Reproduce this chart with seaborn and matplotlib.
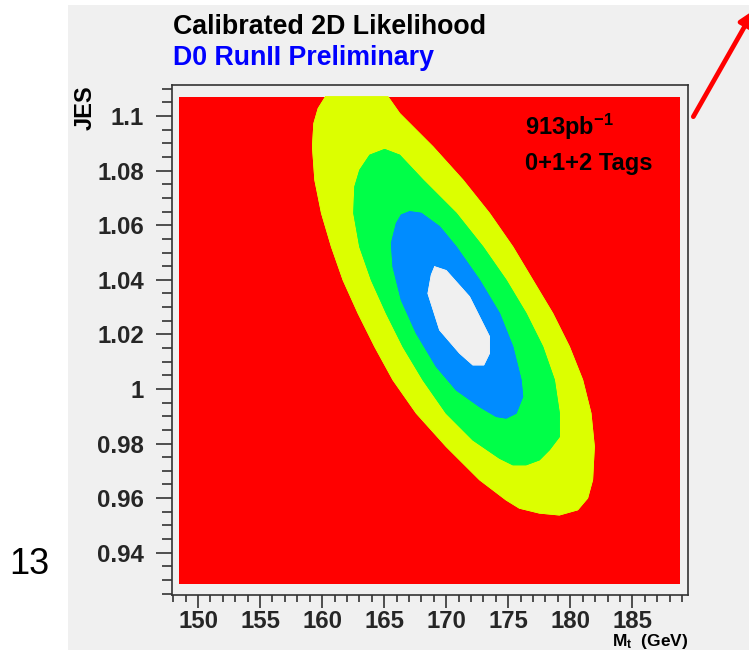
import numpy as np
import matplotlib
matplotlib.use("Agg")
import matplotlib.pyplot as plt
import seaborn as sns
from matplotlib.patches import Rectangle

# ---------------- data ----------------
mass_range = [148.5, 188.8]
jes_range = [0.9285, 1.107]

yellow_mass = [160.27, 165.31, 166.25, 168.93, 171.35, 173.49, 175.37, 176.98, 178.59,
               179.93, 181.00, 181.67, 181.94, 181.80, 181.40, 180.60, 179.12, 177.51,
               175.90, 174.83, 172.69, 170.00, 167.59, 165.71, 164.24, 162.90, 161.69,
               160.75, 159.95, 159.41, 159.22, 159.33, 159.68]
yellow_jes = [1.1071, 1.1071, 1.1010, 1.0888, 1.0766, 1.0644, 1.0521, 1.0399, 1.0277,
              1.0155, 1.0033, 0.9911, 0.9789, 0.9667, 0.9600, 0.9557, 0.9538, 0.9545,
              0.9563, 0.9593, 0.9667, 0.9789, 0.9911, 1.0033, 1.0155, 1.0277, 1.0399,
              1.0521, 1.0644, 1.0766, 1.0888, 1.0973, 1.1028]

green_mass = [165.04, 166.25, 168.13, 170.81, 172.96, 174.83, 176.44, 177.78, 178.72,
              179.12, 179.12, 178.32, 177.51, 176.44, 175.37, 174.30, 172.15, 170.00,
              168.13, 166.52, 165.18, 163.97, 163.03, 162.55, 162.63, 163.03, 163.84]
green_jes = [1.0878, 1.0857, 1.0766, 1.0644, 1.0521, 1.0399, 1.0277, 1.0155, 1.0033,
             0.9911, 0.9825, 0.9777, 0.9740, 0.9722, 0.9722, 0.9746, 0.9813, 0.9911,
             1.0033, 1.0155, 1.0277, 1.0399, 1.0521, 1.0644, 1.0741, 1.0802, 1.0857]

blue_mass = [167.06, 167.99, 169.47, 170.81, 172.69, 174.30, 175.37, 176.04, 176.17,
             175.64, 174.83, 174.03, 172.69, 170.81, 169.20, 167.59, 166.38, 165.71,
             165.58, 165.98, 166.38]
blue_jes = [1.0650, 1.0644, 1.0595, 1.0521, 1.0399, 1.0277, 1.0155, 1.0033, 0.9972,
            0.9911, 0.9893, 0.9899, 0.9935, 0.9996, 1.0082, 1.0204, 1.0326, 1.0448,
            1.0534, 1.0607, 1.0638]

white_mass = [169.07, 170.00, 171.88, 173.49, 173.49, 173.03, 172.15, 171.08, 169.47,
              168.53, 168.80]
white_jes = [1.0448, 1.0434, 1.0338, 1.0192, 1.0131, 1.0088, 1.0088, 1.0131, 1.0216,
             1.0350, 1.0418]

x_major_ticks = [150, 155, 160, 165, 170, 175, 180, 185]
y_major_ticks = [0.94, 0.96, 0.98, 1.00, 1.02, 1.04, 1.06, 1.08, 1.10]
y_tick_labels = ["0.94", "0.96", "0.98", "1", "1.02", "1.04", "1.06", "1.08", "1.1"]

# ---------------- style ----------------
sns.set_theme(style="ticks")
plt.rcParams['font.family'] = ['Liberation Sans', 'DejaVu Sans']
plt.rcParams['font.weight'] = 'bold'
plt.rcParams['mathtext.fontset'] = 'custom'
plt.rcParams['mathtext.rm'] = 'Liberation Sans:bold'
plt.rcParams['mathtext.bf'] = 'Liberation Sans:bold'
plt.rcParams['mathtext.it'] = 'Liberation Sans:bold'

W, H = 749, 650
fig = plt.figure(figsize=(W / 100, H / 100), dpi=100)
fig.patch.set_facecolor('white')
fig.patches.append(Rectangle((68 / W, 0), 1, (H - 5) / H, transform=fig.transFigure,
                             facecolor='#f0f0f0', edgecolor='none', zorder=-10))

ax = fig.add_axes([171.7 / W, (H - 595) / H, (687.7 - 171.7) / W, (595 - 85) / H])
ax.set_zorder(1)
ax.set_facecolor('#f0f0f0')

RED, YELLOW, GREEN, BLUE, WHITE = '#ff0000', '#dcff00', '#00ff48', '#008cff', '#f0f0f0'

# background likelihood region
ax.fill([mass_range[0], mass_range[1], mass_range[1], mass_range[0]],
        [jes_range[0], jes_range[0], jes_range[1], jes_range[1]],
        color=RED, lw=0, zorder=1)
for m, j, c, z in [(yellow_mass, yellow_jes, YELLOW, 2), (green_mass, green_jes, GREEN, 3),
                   (blue_mass, blue_jes, BLUE, 4), (white_mass, white_jes, WHITE, 5)]:
    ax.fill(m, j, color=c, lw=0.6, ec=c, zorder=z)
    sns.lineplot(x=m + [m[0]], y=j + [j[0]], sort=False, color=c, lw=0.6, ax=ax,
                 zorder=z, estimator=None)

ax.set_xlim(147.88, 189.46)
ax.set_ylim(0.9245, 1.1114)
ax.set_xticks(x_major_ticks)
ax.set_xticks(np.arange(148, 190, 1), minor=True)
ax.set_yticks(y_major_ticks)
ax.set_yticklabels(y_tick_labels)
ax.set_yticks(np.arange(0.925, 1.111, 0.005), minor=True)
ax.set_xlabel('')
ax.set_ylabel('')

ax.tick_params(axis='x', which='major', direction='out', length=9.4, width=1.1,
               pad=1.6, labelsize=17.3, color='#222222')
ax.tick_params(axis='x', which='minor', direction='out', length=5, width=1.1, color='#222222')
ax.tick_params(axis='y', which='major', direction='out', length=11.5, width=1.1,
               pad=8.6, labelsize=17.3, color='#222222')
ax.tick_params(axis='y', which='minor', direction='out', length=7, width=1.1, color='#222222')
for lbl in ax.get_xticklabels() + ax.get_yticklabels():
    lbl.set_fontweight('bold')
for s in ax.spines.values():
    s.set_visible(True)
    s.set_linewidth(1.2)
    s.set_color('#333333')

# texts
fig.text(173 / W, (H - 34.3) / H, "Calibrated 2D Likelihood", fontsize=19.3,
         fontweight='bold', color='black', ha='left', va='baseline')
fig.text(173 / W, (H - 65) / H, "D0 RunII Preliminary", fontsize=19.3,
         fontweight='bold', color='#0000ff', ha='left', va='baseline')
fig.text(525 / W, (H - 135) / H, r"913pb$^{-1}$", fontsize=17, fontweight='bold',
         color='black', ha='left', va='baseline', zorder=5)
fig.text(525 / W, (H - 170) / H, "0+1+2 Tags", fontsize=17, fontweight='bold',
         color='black', ha='left', va='baseline', zorder=5)
fig.text(85 / W, (H - 85) / H, "JES", fontsize=17, fontweight='bold', rotation=90,
         ha='center', va='top', color='black')
fig.text(688 / W, (H - 632) / H, r"M$_{t}$  (GeV)", fontsize=12.5, fontweight='bold',
         ha='right', va='top', color='black')
fig.text(29 / W, (H - 564.5) / H, "13", fontsize=26, fontweight='normal',
         ha='center', va='center', color='black')

# red arrow going off the top-right corner
fig.add_artist(matplotlib.patches.FancyArrowPatch(
    posA=(693.3 / W, 533.3 / H), posB=(754 / W, 640 / H), transform=fig.transFigure,
    arrowstyle='-|>', color='red', lw=3.4, mutation_scale=22, shrinkA=0, shrinkB=0,
    zorder=6))

fig.savefig('out.png', dpi=100, facecolor=fig.get_facecolor())
